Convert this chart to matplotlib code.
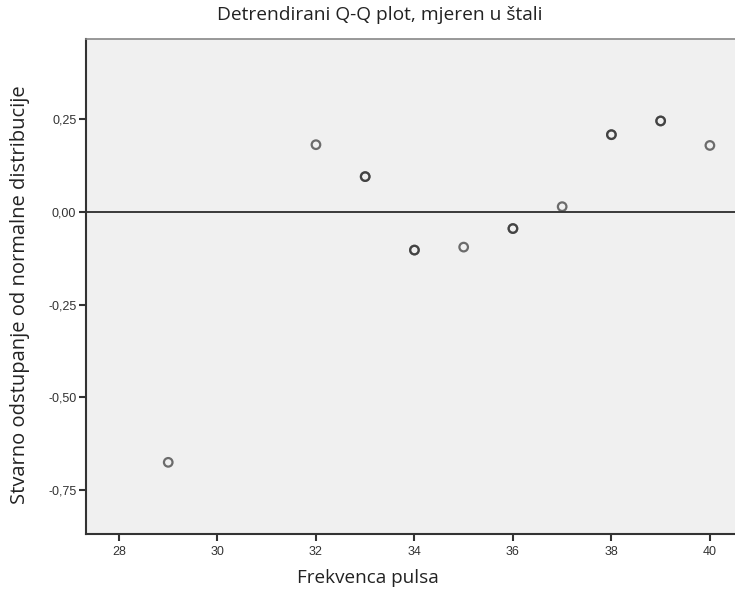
import matplotlib.pyplot as plt
from matplotlib.ticker import FuncFormatter

plt.rcParams['font.family'] = 'Liberation Sans'

# podaci sa slike
frekvenca = [29, 32, 33, 34, 35, 36, 37, 38, 39, 40]
odstupanje = [-0.675, 0.181, 0.095, -0.103, -0.095, -0.045, 0.014, 0.208, 0.245, 0.179]
broj = [1, 1, 2, 2, 1, 2, 1, 2, 2, 1]

x_tocke = []
y_tocke = []
for xv, yv, n in zip(frekvenca, odstupanje, broj):
    for _ in range(n):
        x_tocke.append(xv)
        y_tocke.append(yv)

fig = plt.figure(figsize=(7.35, 5.9), dpi=100)
ax = fig.add_axes([0.117, 0.095, 0.883, 0.839])
ax.set_facecolor('#f0f0f0')

ax.axhline(0, color='#3a3a3a', linewidth=1.4, zorder=1)
ax.scatter(x_tocke, y_tocke, s=38, facecolors='none', edgecolors='#333333',
           linewidths=1.6, alpha=0.7, zorder=2)

ax.set_xlim(27.33, 40.51)
ax.set_ylim(-0.868, 0.466)
ax.set_xticks([28, 30, 32, 34, 36, 38, 40])
ax.set_yticks([0.25, 0.0, -0.25, -0.5, -0.75])
ax.yaxis.set_major_formatter(FuncFormatter(lambda v, p: f'{v:.2f}'.replace('.', ',')))

for s in ['left', 'bottom']:
    ax.spines[s].set_color('#333333')
    ax.spines[s].set_linewidth(1.5)
ax.spines['top'].set_color('#888888')
ax.spines['top'].set_linewidth(1.2)
ax.spines['right'].set_visible(False)
ax.tick_params(length=5, width=1.5, color='#333333', labelsize=9,
               labelcolor='#333333')
ax.tick_params(axis='y', pad=2)
ax.tick_params(axis='x', pad=4)

fig.text(0.516, 0.974, 'Detrendirani Q-Q plot, mjeren u štali', ha='center', va='center',
         fontsize=13.8, family='Open Sans', color='#222222')
fig.text(0.5007, 0.02, 'Frekvenca pulsa', ha='center', va='center',
         fontsize=13.6, family='Open Sans', color='#222222')
fig.text(0.027, 0.5, 'Stvarno odstupanje od normalne distribucije', ha='center', va='center',
         rotation=90, fontsize=14.5, family='Open Sans', color='#222222')

fig.savefig('out.png', dpi=100)
